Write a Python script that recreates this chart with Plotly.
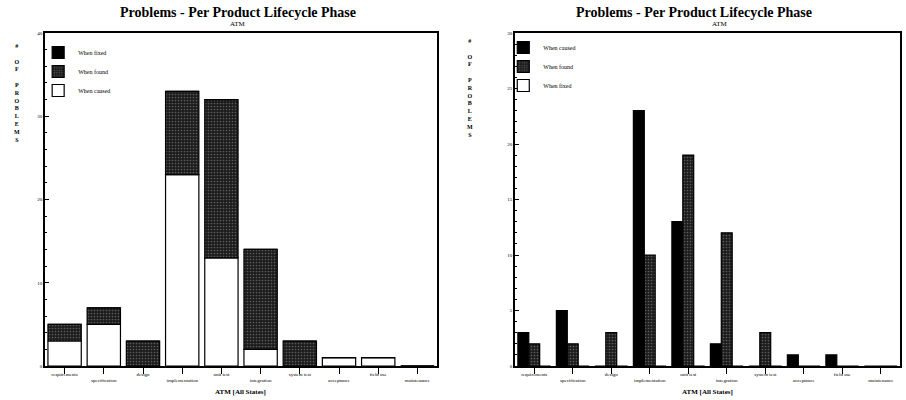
import plotly.graph_objects as go

phases = ["requirements", "specification", "design", "implementation", "unit test",
          "integration", "system test", "acceptance", "field use", "maintenance"]
when_caused = [3, 5, 0, 23, 13, 2, 0, 1, 1, 0]
when_found = [2, 2, 3, 10, 19, 12, 3, 0, 0, 0]
when_fixed = [0, 0, 0, 0, 0, 0, 0, 0, 0, 0]
left_yticks = [0, 10, 20, 30, 40]
right_yticks = [0, 5, 10, 15, 20, 25, 30]

tick_text = [p if i % 2 == 0 else "<br>" + p for i, p in enumerate(phases)]
SERIF = "Liberation Serif"
found_marker = dict(color="#1c1c1c", line=dict(color="black", width=1.2),
                    pattern=dict(shape=".", fgcolor="#9a9a9a", size=3, solidity=0.25))

fig = go.Figure()
base_found = when_caused
base_fixed = [c + f for c, f in zip(when_caused, when_found)]
fig.add_trace(go.Bar(x=phases, y=when_caused, name="When caused", xaxis="x", yaxis="y",
                     offsetgroup="L", legend="legend",
                     marker=dict(color="white", line=dict(color="black", width=1.2))))
fig.add_trace(go.Bar(x=phases, y=when_found, base=base_found, name="When found", xaxis="x", yaxis="y",
                     offsetgroup="L", legend="legend", marker=found_marker))
fig.add_trace(go.Bar(x=phases, y=when_fixed, base=base_fixed, name="When fixed", xaxis="x", yaxis="y",
                     offsetgroup="L", legend="legend",
                     marker=dict(color="black", line=dict(color="black", width=1.2))))

fig.add_trace(go.Bar(x=phases, y=when_caused, name="When caused", xaxis="x2", yaxis="y2",
                     offsetgroup="a", legend="legend2",
                     marker=dict(color="black", line=dict(color="black", width=1.2))))
fig.add_trace(go.Bar(x=phases, y=when_found, name="When found", xaxis="x2", yaxis="y2",
                     offsetgroup="b", legend="legend2", marker=found_marker))
fig.add_trace(go.Bar(x=phases, y=when_fixed, name="When fixed", xaxis="x2", yaxis="y2",
                     offsetgroup="c", legend="legend2",
                     marker=dict(color="white", line=dict(color="black", width=1.2))))

xcommon = dict(showline=True, linecolor="black", linewidth=1.5, mirror=True, ticks="outside",
               ticklen=6, tickcolor="black", tickvals=phases, ticktext=tick_text,
               ticklabelstandoff=-4, automargin=False,
               tickfont=dict(family=SERIF, size=5, color="black"), tickangle=0, showgrid=False)
ycommon = dict(showline=True, linecolor="black", linewidth=1.5, mirror=True, ticks="inside",
               ticklen=4, tickcolor="black", showgrid=False, zeroline=False, automargin=False,
               tickfont=dict(family=SERIF, size=5, color="black"))

fig.update_layout(
    width=906, height=400, paper_bgcolor="white", plot_bgcolor="white",
    margin=dict(l=45, r=6, t=33, b=34, autoexpand=False),
    barmode="group", bargap=0.15, bargroupgap=0,
    font=dict(family=SERIF, color="black"),
    xaxis=dict(domain=[0, 0.4585], anchor="y", **xcommon),
    yaxis=dict(domain=[0, 1], anchor="x", range=[0, 40], tickvals=left_yticks,
               minor=dict(dtick=2, ticks="inside", ticklen=2, tickcolor="black"), **ycommon),
    xaxis2=dict(domain=[0.5497, 1], anchor="y2", **xcommon),
    yaxis2=dict(domain=[0, 1], anchor="x2", range=[0, 30], tickvals=right_yticks,
                minor=dict(dtick=1, ticks="inside", ticklen=2, tickcolor="black"), **ycommon),
    legend=dict(x=-0.008, y=0.985, xanchor="left", yanchor="top", traceorder="reversed",
                bgcolor="rgba(0,0,0,0)", font=dict(family=SERIF, size=6), tracegroupgap=0,
                itemwidth=30),
    legend2=dict(x=0.536, y=1.0, xanchor="left", yanchor="top", traceorder="normal",
                 bgcolor="rgba(0,0,0,0)", font=dict(family=SERIF, size=6), tracegroupgap=0,
                 itemwidth=30),
)

ylabel = "#<br><br>O<br>F<br><br>P<br>R<br>O<br>B<br>L<br>E<br>M<br>S"
ann = [
    dict(text="<b>Problems - Per Product Lifecycle Phase</b>", x=0.2257, y=1.063, size=14),
    dict(text="ATM", x=0.2257, y=1.028, size=7),
    dict(text="<b>Problems - Per Product Lifecycle Phase</b>", x=0.7585, y=1.063, size=14),
    dict(text="ATM", x=0.7895, y=1.028, size=7),
    dict(text="<b>ATM [All States]</b>", x=0.2292, y=-0.078, size=7),
    dict(text="<b>ATM [All States]</b>", x=0.775, y=-0.078, size=7),
]
for a in ann:
    fig.add_annotation(text=a["text"], x=a["x"], y=a["y"], xref="paper", yref="paper",
                       showarrow=False, xanchor="center", yanchor="middle",
                       font=dict(family=SERIF, size=a["size"], color="black"))
for xp, yp in ((-0.0327, 0.975), (0.497, 0.99)):
    fig.add_annotation(text="<b>" + ylabel + "</b>", x=xp, y=yp, xref="paper", yref="paper",
                       showarrow=False, xanchor="center", yanchor="top",
                       font=dict(family=SERIF, size=6, color="black"))

fig.write_html("out.html", config={"displayModeBar": False},
               post_script="document.body.style.margin='0';")
